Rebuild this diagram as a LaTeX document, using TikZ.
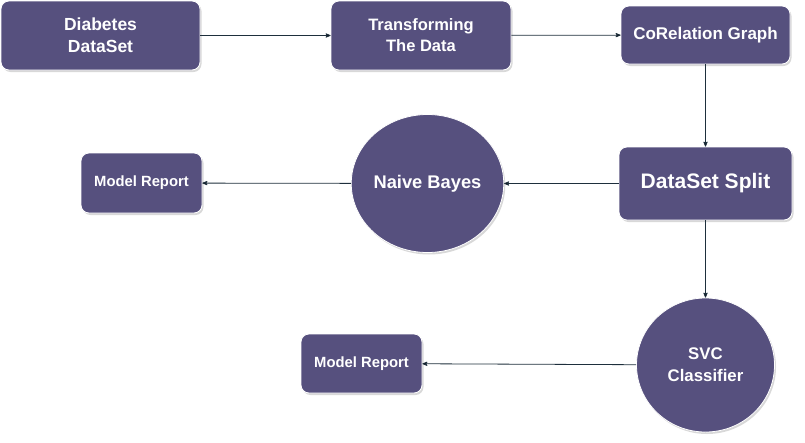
\documentclass[tikz,border=0pt]{standalone}
\usepackage{fontspec}
\setmainfont{Liberation Sans}
\usetikzlibrary{arrows,shapes.geometric,shadows,positioning}
\definecolor{boxColor}{HTML}{56507E}
\definecolor{lineColor}{HTML}{1E2F3C}
\tikzset{
	blk/.style={draw=white, line width=0.8pt, fill=boxColor, text=white, rounded corners=8pt,
		font=\bfseries\fontsize{17.5}{22}\selectfont, align=center, inner sep=0pt,
		drop shadow={shadow xshift=1.5pt, shadow yshift=-2pt, fill=black!30, opacity=0.5}},
	rnd/.style={blk, ellipse, rounded corners=0pt},
	flow/.style={->, >=stealth', draw=lineColor, line width=0.8pt}
}
\begin{document}
\begin{tikzpicture}[x=1pt, y=-1pt]
				\useasboundingbox (0,0) rectangle (805,442);
				\node[blk, minimum width=199pt, minimum height=69pt] (data) at (100.5, 35.5) {Diabetes\\DataSet};
				\node[blk, minimum width=180pt, minimum height=69pt, font=\bfseries\fontsize{16.5}{21}\selectfont] (trans) at (421, 35.5) {Transforming\\The Data};
				\node[blk, minimum width=169pt, minimum height=58pt, font=\bfseries\fontsize{17}{21}\selectfont] (corr) at (705.5, 35) {CoRelation Graph};
				\node[blk, minimum width=173pt, minimum height=73pt, font=\bfseries\fontsize{21}{25}\selectfont] (split) at (705.5, 183.5) {DataSet Split};
				\node[rnd, minimum width=149pt, minimum height=138pt, font=\bfseries\fontsize{18.3}{22}\selectfont] (nb) at (427.5, 183.5) {Naive Bayes};
				\node[rnd, minimum width=138pt, minimum height=134pt, font=\bfseries\fontsize{16.8}{22}\selectfont] (svc) at (705.5, 365) {SVC\\Classifier};
				\node[blk, minimum width=121pt, minimum height=60pt, font=\bfseries\fontsize{14.8}{18}\selectfont] (rep1) at (141.5, 183) {Model Report};
				\node[blk, minimum width=121pt, minimum height=59pt, font=\bfseries\fontsize{14.8}{18}\selectfont] (rep2) at (361.5, 363.5) {Model Report};
				\path[flow] (data) edge (trans);
				\path[flow] (trans) edge (corr);
				\path[flow] (corr) edge (split);
				\path[flow] (split) edge (nb);
				\path[flow] (nb) edge (rep1);
				\path[flow] (split) edge (svc);
				\path[flow] (svc) edge (rep2);
\end{tikzpicture}
\end{document}
